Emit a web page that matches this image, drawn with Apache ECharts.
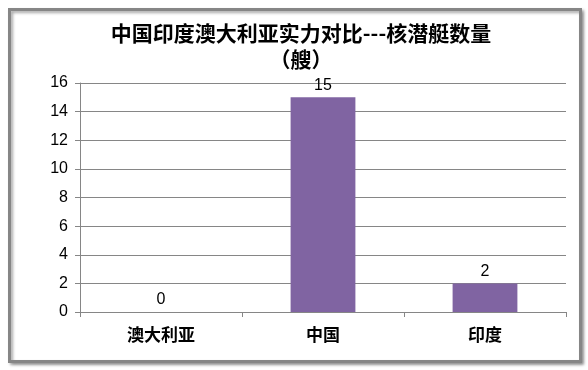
<!DOCTYPE html>
<html><head><meta charset="utf-8">
<script src="https://cdn.jsdelivr.net/npm/echarts@6/dist/echarts.min.js"></script>
<style>html,body{margin:0;padding:0;background:#fff}#c{width:588px;height:370px}</style>
</head><body><div id="c"></div>
<script>
const titleText = '中国印度澳大利亚实力对比---核潜艇数量\n（艘）';
const categories = ['澳大利亚', '中国', '印度'];
const values = [0, 15, 2];
const yMin = 0, yMax = 16, yInterval = 2;

const chart = echarts.init(document.getElementById('c'));
chart.setOption({
  animation: false,
  backgroundColor: '#fff',
  graphic: [{
    type: 'rect', left: 8, top: 8, shape: { width: 571, height: 352 },
    style: { fill: '#fff', stroke: '#868686', lineWidth: 3, shadowBlur: 3, shadowOffsetX: 2, shadowOffsetY: 2, shadowColor: 'rgba(0,0,0,0.35)' },
    z: -10
  }],
  title: {
    text: titleText, left: 296, top: 15, textAlign: 'center',
    textStyle: { fontFamily: 'Noto Sans CJK SC', fontSize: 21, fontWeight: 'bold', color: '#000', lineHeight: 26 }
  },
  grid: { left: 80, right: 22, top: 83, bottom: 58 },
  xAxis: {
    type: 'category', data: categories,
    axisLine: { lineStyle: { color: '#868686' } },
    axisTick: { show: true, length: 5, lineStyle: { color: '#868686' }, alignWithLabel: false },
    axisLabel: { fontFamily: 'Noto Sans CJK SC', fontSize: 17, fontWeight: 'bold', color: '#000', margin: 14 }
  },
  yAxis: {
    type: 'value', min: yMin, max: yMax, interval: yInterval,
    axisLine: { show: true, lineStyle: { color: '#868686' } },
    axisTick: { show: true, length: 5, inside: false, lineStyle: { color: '#868686' } },
    splitLine: { lineStyle: { color: '#868686' } },
    axisLabel: { fontFamily: 'Liberation Sans', fontSize: 16, color: '#000', margin: 12 }
  },
  series: [{
    type: 'bar', data: values, barWidth: '40%',
    itemStyle: { color: '#8064A2' },
    label: { show: true, position: 'top', fontFamily: 'Liberation Sans', fontSize: 16, color: '#000', distance: 4 }
  }]
});
</script></body></html>
